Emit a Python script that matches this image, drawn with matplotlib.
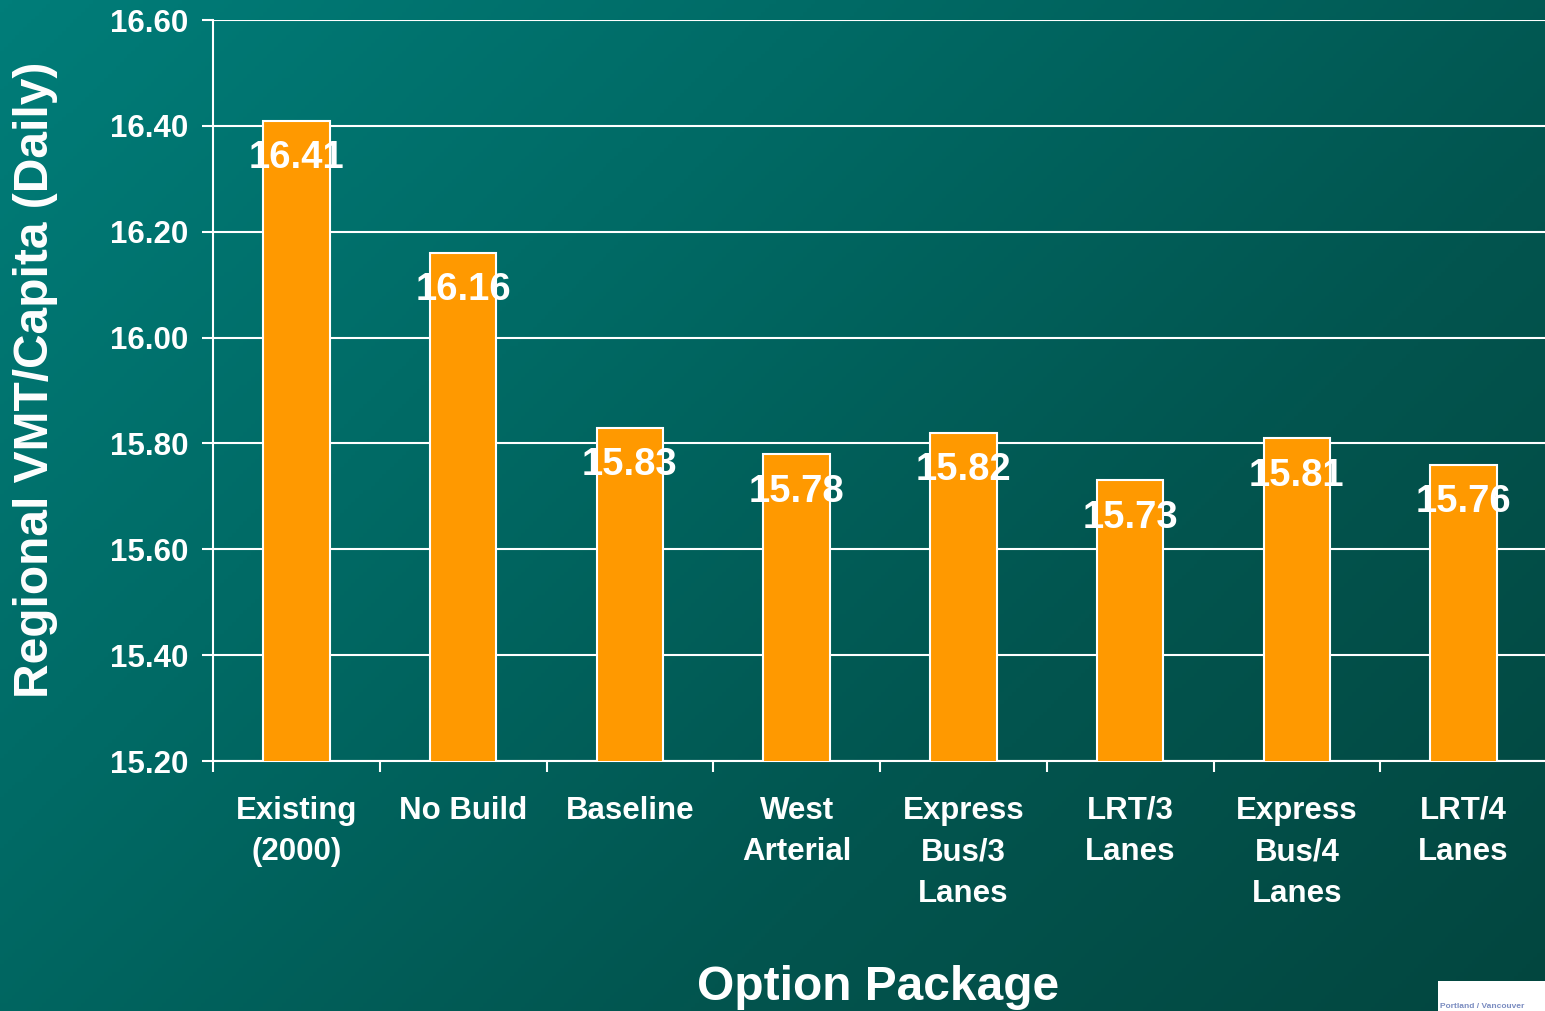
import numpy as np
import matplotlib
matplotlib.use("Agg")
import matplotlib.pyplot as plt
from matplotlib.colors import LinearSegmentedColormap

categories = ["Existing\n(2000)", "No Build", "Baseline", "West\nArterial",
              "Express\nBus/3\nLanes", "LRT/3\nLanes", "Express\nBus/4\nLanes", "LRT/4\nLanes"]
values = [16.41, 16.16, 15.83, 15.78, 15.82, 15.73, 15.81, 15.76]
value_labels = ["16.41", "16.16", "15.83", "15.78", "15.82", "15.73", "15.81", "15.76"]
yticks = [15.20, 15.40, 15.60, 15.80, 16.00, 16.20, 16.40, 16.60]

plt.rcParams['font.family'] = ['Liberation Sans', 'DejaVu Sans']
plt.rcParams['font.weight'] = 'bold'

W, H = 1545, 1011
fig = plt.figure(figsize=(W / 100, H / 100), dpi=100)

# gradient background
bg = fig.add_axes([0, 0, 1, 1], zorder=-10)
gx, gy = np.meshgrid(np.linspace(0, 1, 400), np.linspace(0, 1, 260))
t = (gx * 0.6 + gy * 0.4)
cmap = LinearSegmentedColormap.from_list("bg", ["#007D79", "#006A65", "#02554F", "#03463F"])
bg.imshow(t, cmap=cmap, aspect='auto', extent=[0, 1, 0, 1], origin='upper')
bg.set_xlim(0, 1)
bg.set_ylim(0, 1)
bg.axis('off')

ax = fig.add_axes([213 / W, 1 - 761 / H, (1547 - 213) / W, 741 / H])
ax.set_facecolor('none')
x = np.arange(len(categories))
ax.bar(x, values, width=0.4, color='#FF9900', edgecolor='white', linewidth=1.5, zorder=3)
ax.set_ylim(15.20, 16.60)
ax.set_xlim(-0.5, len(categories) - 0.5)

for xi, v, lab in zip(x, values, value_labels):
    ax.annotate(lab, (xi, v), xytext=(0, -27), textcoords='offset points',
                ha='center', va='center', color='white', fontsize=27.5, fontweight='bold', zorder=5)

ax.set_yticks(yticks)
ax.set_yticklabels([f"{v:.2f}" for v in yticks], fontsize=22.5, fontweight='bold', color='white')
ax.tick_params(axis='y', colors='white', length=8, width=1.5, pad=10)
ax.yaxis.grid(True, color='white', linewidth=1.5, zorder=0)
ax.set_axisbelow(True)

ax.set_xticks(np.arange(-0.5, len(categories), 1.0))
ax.set_xticklabels([])
ax.tick_params(axis='x', which='major', colors='white', length=8, width=1.5)
ax.set_xticks(x, minor=True)
ax.set_xticklabels(categories, minor=True, fontsize=22.5, fontweight='bold', color='white',
                   linespacing=1.5, va='top')
ax.tick_params(axis='x', which='minor', length=0, pad=25)

for s in ['top', 'right']:
    ax.spines[s].set_visible(False)
for s in ['left', 'bottom']:
    ax.spines[s].set_color('white')
    ax.spines[s].set_linewidth(1.5)

fig.text(36 / W, 1 - 380 / H, "Regional VMT/Capita (Daily)", rotation=90, ha='center', va='center',
         color='white', fontsize=34.5, fontweight='bold')
fig.text(878 / W, 1 - 987 / H, "Option Package", ha='center', va='center',
         color='white', fontsize=34.5, fontweight='bold')

# small logo box bottom-right
logo = fig.add_axes([1438 / W, 0, (W - 1438) / W, 30 / H])
logo.set_facecolor('white')
logo.set_xticks([])
logo.set_yticks([])
for s in logo.spines.values():
    s.set_visible(False)
logo.text(0.02, 0.05, "Portland / Vancouver", color='#7A8CC0', fontsize=6, ha='left', va='bottom',
          transform=logo.transAxes, clip_on=True)

fig.savefig("out.png", dpi=100)
